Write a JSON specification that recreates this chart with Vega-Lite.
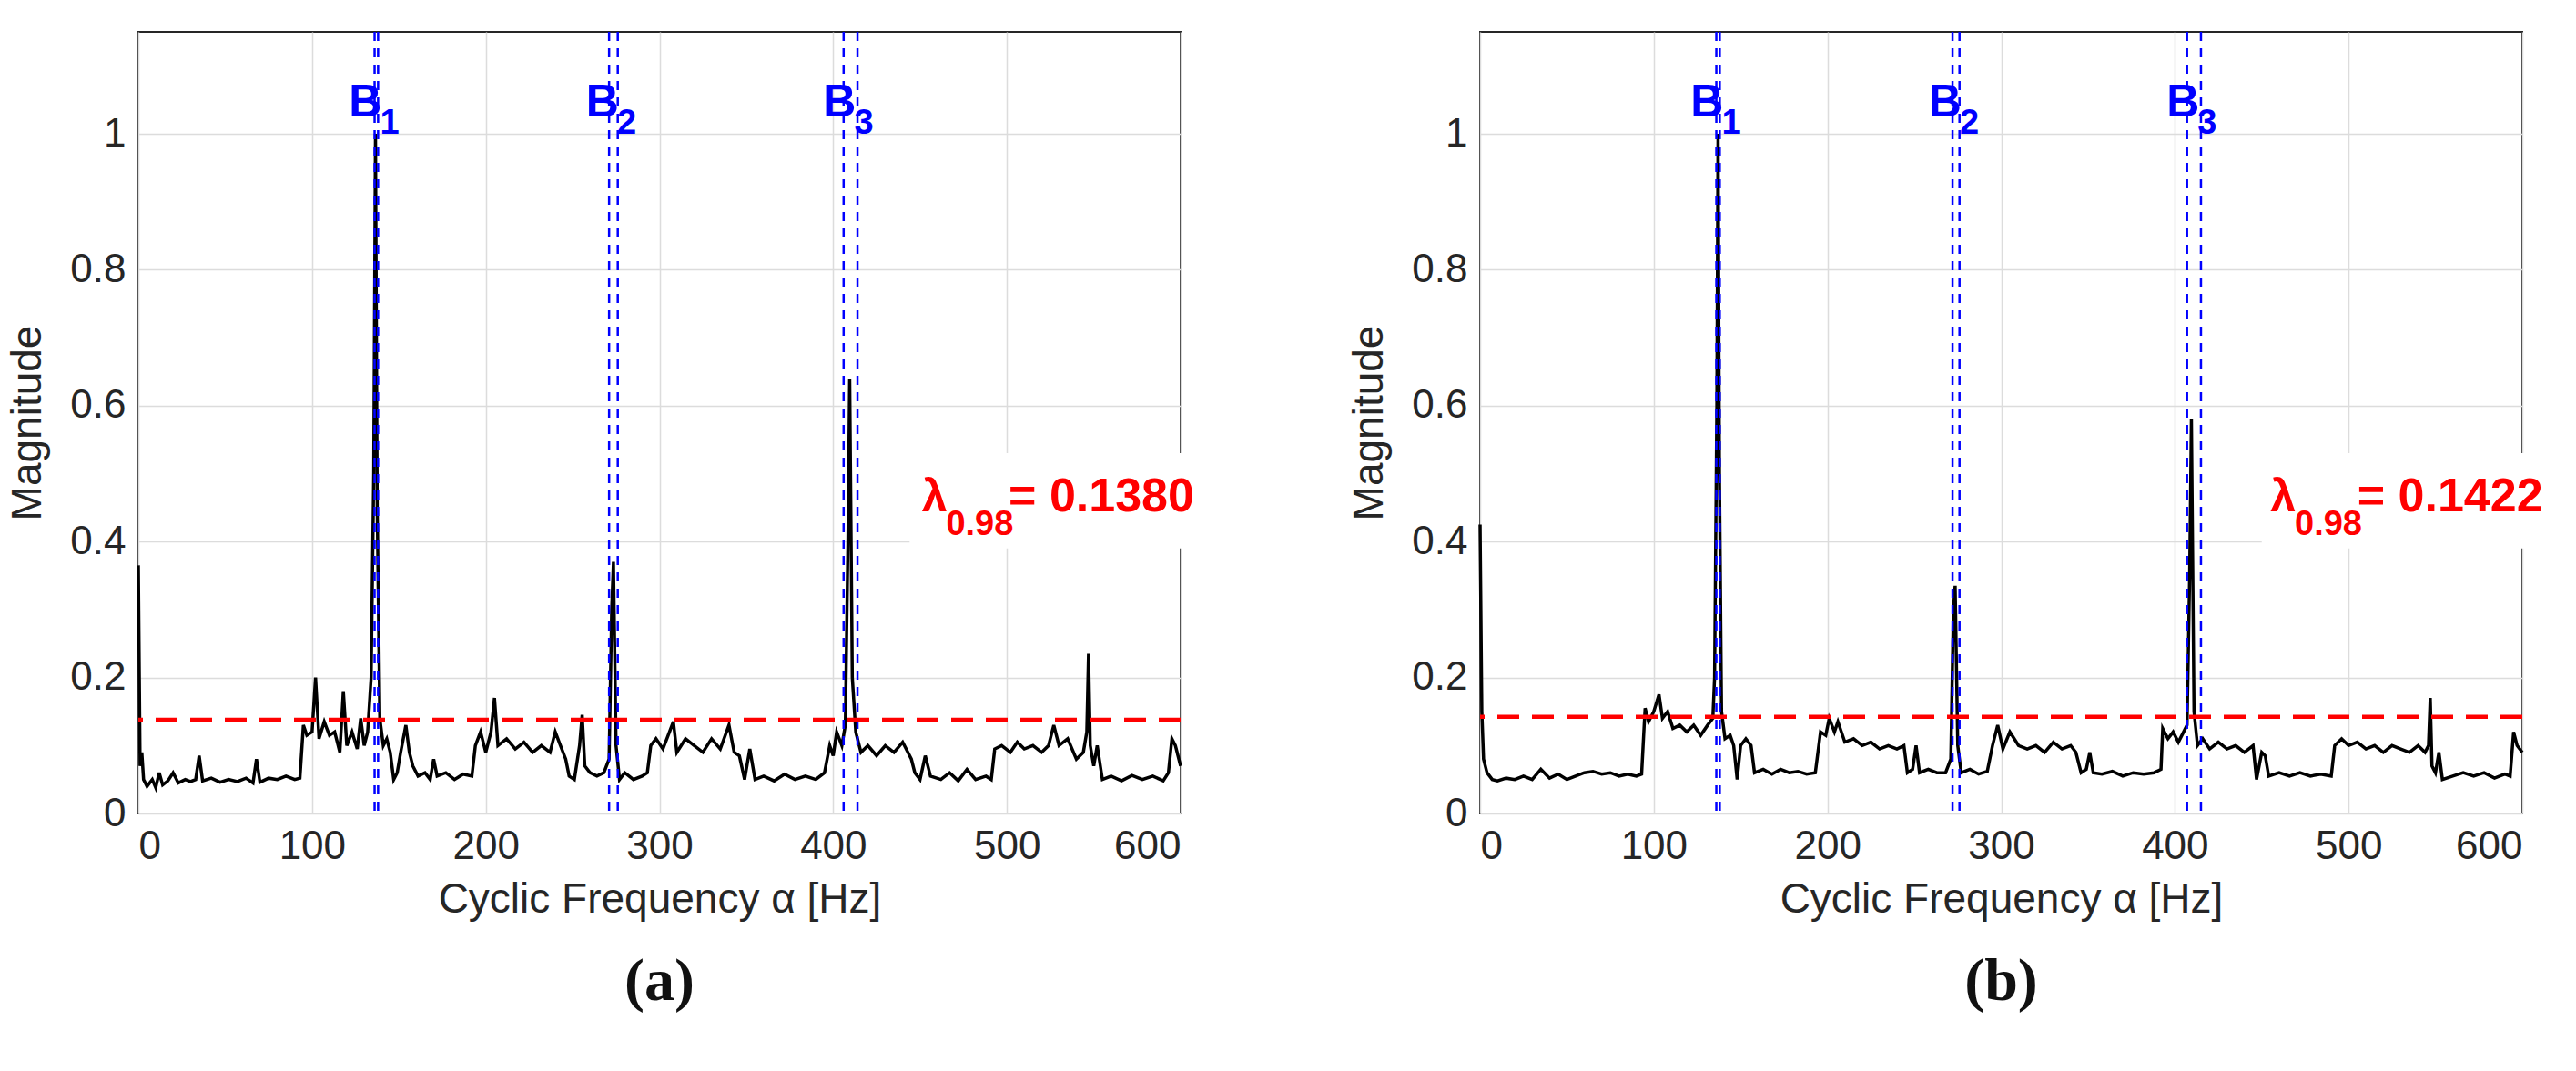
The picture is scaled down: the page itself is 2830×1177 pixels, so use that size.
{
  "$schema": "https://vega.github.io/schema/vega-lite/v6.json",
  "padding": {"left": 6, "top": 32, "right": 6, "bottom": 6},
  "background": "white",
  "spacing": 329,
  "bounds": "flush",
  "config": {
    "view": {"stroke": "#262626", "strokeWidth": 2},
    "font": "Liberation Sans",
    "axis": {
      "domain": false, "ticks": false, "grid": true, "gridColor": "#dcdcdc", "gridWidth": 1.5,
      "labelFont": "Liberation Sans", "labelFontSize": 44, "labelColor": "#262626",
      "titleFont": "Liberation Sans", "titleFontSize": 46, "titleFontWeight": "normal", "titleColor": "#262626",
      "labelPadding": 14
    },
    "title": {"font": "Liberation Serif", "fontSize": 66, "fontWeight": "bold", "orient": "bottom", "anchor": "middle", "offset": 36, "color": "#111"}
  },
  "datasets": {
    "sigA": [
      {"x":0,"y":0.365},{"x":1,"y":0.07},{"x":2,"y":0.09},{"x":3,"y":0.05},{"x":5,"y":0.04},{"x":8,"y":0.05},{"x":10,"y":0.038},{"x":12,"y":0.06},{"x":14,"y":0.042},{"x":17,"y":0.048},{"x":20,"y":0.06},{"x":23,"y":0.045},{"x":27,"y":0.05},{"x":30,"y":0.047},{"x":33,"y":0.05},{"x":35,"y":0.085},{"x":37,"y":0.048},{"x":42,"y":0.052},{"x":47,"y":0.046},{"x":52,"y":0.05},{"x":57,"y":0.047},{"x":62,"y":0.052},{"x":66,"y":0.045},{"x":68,"y":0.08},{"x":70,"y":0.046},{"x":75,"y":0.052},{"x":80,"y":0.05},{"x":85,"y":0.055},{"x":90,"y":0.05},{"x":93,"y":0.052},{"x":95,"y":0.13},{"x":97,"y":0.115},{"x":100,"y":0.12},{"x":102,"y":0.2},{"x":104,"y":0.11},{"x":107,"y":0.135},{"x":110,"y":0.115},{"x":113,"y":0.12},{"x":116,"y":0.09},{"x":118,"y":0.18},{"x":120,"y":0.1},{"x":123,"y":0.12},{"x":126,"y":0.095},{"x":128,"y":0.14},{"x":130,"y":0.1},{"x":132,"y":0.12},{"x":134,"y":0.2},{"x":135.5,"y":0.5},{"x":136.5,"y":1.0},{"x":137.5,"y":0.45},{"x":139,"y":0.14},{"x":141,"y":0.1},{"x":143,"y":0.11},{"x":145,"y":0.09},{"x":147,"y":0.05},{"x":149,"y":0.06},{"x":151,"y":0.09},{"x":154,"y":0.13},{"x":156,"y":0.09},{"x":158,"y":0.07},{"x":161,"y":0.055},{"x":165,"y":0.06},{"x":168,"y":0.05},{"x":170,"y":0.08},{"x":172,"y":0.055},{"x":177,"y":0.06},{"x":182,"y":0.05},{"x":187,"y":0.058},{"x":192,"y":0.055},{"x":194,"y":0.1},{"x":197,"y":0.12},{"x":200,"y":0.09},{"x":203,"y":0.12},{"x":205,"y":0.17},{"x":207,"y":0.1},{"x":212,"y":0.11},{"x":217,"y":0.095},{"x":222,"y":0.105},{"x":227,"y":0.09},{"x":232,"y":0.1},{"x":237,"y":0.09},{"x":240,"y":0.12},{"x":243,"y":0.1},{"x":246,"y":0.08},{"x":248,"y":0.055},{"x":251,"y":0.05},{"x":254,"y":0.1},{"x":255.5,"y":0.145},{"x":257,"y":0.07},{"x":260,"y":0.06},{"x":264,"y":0.055},{"x":268,"y":0.06},{"x":271,"y":0.08},{"x":272.5,"y":0.3},{"x":273.5,"y":0.37},{"x":275,"y":0.1},{"x":277,"y":0.05},{"x":280,"y":0.06},{"x":285,"y":0.05},{"x":290,"y":0.055},{"x":293,"y":0.06},{"x":295,"y":0.1},{"x":298,"y":0.11},{"x":302,"y":0.095},{"x":305,"y":0.115},{"x":308,"y":0.135},{"x":310,"y":0.09},{"x":315,"y":0.11},{"x":320,"y":0.1},{"x":325,"y":0.09},{"x":330,"y":0.11},{"x":335,"y":0.095},{"x":340,"y":0.13},{"x":343,"y":0.09},{"x":346,"y":0.085},{"x":349,"y":0.05},{"x":352,"y":0.095},{"x":355,"y":0.05},{"x":360,"y":0.055},{"x":366,"y":0.048},{"x":372,"y":0.058},{"x":378,"y":0.05},{"x":384,"y":0.055},{"x":390,"y":0.05},{"x":395,"y":0.06},{"x":398,"y":0.1},{"x":400,"y":0.085},{"x":402,"y":0.12},{"x":405,"y":0.1},{"x":407,"y":0.13},{"x":408.5,"y":0.4},{"x":409.5,"y":0.64},{"x":411,"y":0.2},{"x":413,"y":0.12},{"x":416,"y":0.09},{"x":420,"y":0.1},{"x":425,"y":0.085},{"x":430,"y":0.1},{"x":435,"y":0.09},{"x":440,"y":0.105},{"x":445,"y":0.08},{"x":447,"y":0.06},{"x":450,"y":0.05},{"x":453,"y":0.085},{"x":456,"y":0.055},{"x":462,"y":0.05},{"x":467,"y":0.06},{"x":472,"y":0.048},{"x":477,"y":0.065},{"x":482,"y":0.05},{"x":488,"y":0.055},{"x":491,"y":0.05},{"x":493,"y":0.095},{"x":497,"y":0.1},{"x":502,"y":0.09},{"x":506,"y":0.105},{"x":510,"y":0.095},{"x":515,"y":0.1},{"x":520,"y":0.09},{"x":524,"y":0.1},{"x":527,"y":0.13},{"x":530,"y":0.1},{"x":535,"y":0.11},{"x":540,"y":0.08},{"x":544,"y":0.09},{"x":546,"y":0.12},{"x":547,"y":0.235},{"x":548,"y":0.1},{"x":550,"y":0.07},{"x":552,"y":0.1},{"x":555,"y":0.05},{"x":560,"y":0.055},{"x":566,"y":0.048},{"x":572,"y":0.056},{"x":578,"y":0.05},{"x":584,"y":0.055},{"x":590,"y":0.048},{"x":593,"y":0.06},{"x":595,"y":0.11},{"x":597,"y":0.1},{"x":600,"y":0.07}
    ],
    "sigB": [
      {"x":0,"y":0.425},{"x":1,"y":0.15},{"x":2,"y":0.08},{"x":4,"y":0.06},{"x":7,"y":0.05},{"x":10,"y":0.048},{"x":15,"y":0.052},{"x":20,"y":0.05},{"x":25,"y":0.055},{"x":30,"y":0.05},{"x":35,"y":0.065},{"x":40,"y":0.052},{"x":45,"y":0.058},{"x":50,"y":0.05},{"x":55,"y":0.055},{"x":60,"y":0.06},{"x":65,"y":0.062},{"x":70,"y":0.058},{"x":75,"y":0.06},{"x":80,"y":0.055},{"x":85,"y":0.058},{"x":90,"y":0.055},{"x":93,"y":0.058},{"x":95,"y":0.155},{"x":97,"y":0.135},{"x":100,"y":0.15},{"x":103,"y":0.175},{"x":105,"y":0.14},{"x":108,"y":0.15},{"x":111,"y":0.125},{"x":115,"y":0.13},{"x":119,"y":0.12},{"x":123,"y":0.13},{"x":127,"y":0.115},{"x":131,"y":0.13},{"x":134,"y":0.14},{"x":135,"y":0.2},{"x":136.3,"y":0.6},{"x":137,"y":1.0},{"x":137.8,"y":0.5},{"x":139,"y":0.15},{"x":141,"y":0.11},{"x":144,"y":0.115},{"x":146,"y":0.1},{"x":148,"y":0.05},{"x":150,"y":0.1},{"x":153,"y":0.11},{"x":156,"y":0.1},{"x":158,"y":0.06},{"x":163,"y":0.065},{"x":168,"y":0.058},{"x":173,"y":0.065},{"x":178,"y":0.06},{"x":183,"y":0.062},{"x":188,"y":0.058},{"x":193,"y":0.06},{"x":196,"y":0.12},{"x":199,"y":0.115},{"x":201,"y":0.14},{"x":204,"y":0.12},{"x":206,"y":0.135},{"x":210,"y":0.105},{"x":215,"y":0.11},{"x":220,"y":0.1},{"x":225,"y":0.105},{"x":230,"y":0.095},{"x":235,"y":0.1},{"x":240,"y":0.095},{"x":244,"y":0.1},{"x":246,"y":0.06},{"x":249,"y":0.065},{"x":251,"y":0.1},{"x":253,"y":0.06},{"x":258,"y":0.065},{"x":263,"y":0.06},{"x":268,"y":0.06},{"x":271,"y":0.08},{"x":272.5,"y":0.3},{"x":273.5,"y":0.335},{"x":275,"y":0.1},{"x":277,"y":0.06},{"x":282,"y":0.065},{"x":287,"y":0.058},{"x":292,"y":0.062},{"x":295,"y":0.1},{"x":298,"y":0.13},{"x":301,"y":0.095},{"x":305,"y":0.12},{"x":310,"y":0.1},{"x":315,"y":0.095},{"x":320,"y":0.1},{"x":325,"y":0.09},{"x":330,"y":0.105},{"x":335,"y":0.095},{"x":340,"y":0.1},{"x":343,"y":0.09},{"x":346,"y":0.06},{"x":349,"y":0.065},{"x":351,"y":0.09},{"x":353,"y":0.06},{"x":358,"y":0.058},{"x":364,"y":0.062},{"x":370,"y":0.055},{"x":376,"y":0.06},{"x":382,"y":0.058},{"x":388,"y":0.06},{"x":392,"y":0.065},{"x":393,"y":0.125},{"x":396,"y":0.11},{"x":399,"y":0.12},{"x":402,"y":0.105},{"x":405,"y":0.12},{"x":407,"y":0.13},{"x":408.5,"y":0.35},{"x":409.5,"y":0.58},{"x":411,"y":0.15},{"x":413,"y":0.1},{"x":416,"y":0.11},{"x":420,"y":0.095},{"x":425,"y":0.105},{"x":430,"y":0.095},{"x":435,"y":0.1},{"x":440,"y":0.09},{"x":445,"y":0.1},{"x":447,"y":0.05},{"x":450,"y":0.09},{"x":452,"y":0.085},{"x":454,"y":0.055},{"x":460,"y":0.06},{"x":466,"y":0.055},{"x":472,"y":0.06},{"x":478,"y":0.055},{"x":484,"y":0.058},{"x":490,"y":0.055},{"x":492,"y":0.1},{"x":496,"y":0.11},{"x":500,"y":0.1},{"x":505,"y":0.105},{"x":510,"y":0.095},{"x":515,"y":0.1},{"x":520,"y":0.09},{"x":525,"y":0.1},{"x":530,"y":0.095},{"x":535,"y":0.09},{"x":540,"y":0.1},{"x":544,"y":0.09},{"x":546,"y":0.1},{"x":547,"y":0.17},{"x":548,"y":0.07},{"x":550,"y":0.06},{"x":552,"y":0.09},{"x":554,"y":0.05},{"x":560,"y":0.055},{"x":566,"y":0.06},{"x":572,"y":0.055},{"x":578,"y":0.06},{"x":584,"y":0.052},{"x":590,"y":0.058},{"x":593,"y":0.055},{"x":595,"y":0.12},{"x":597,"y":0.1},{"x":600,"y":0.09}
    ]
  },
  "hconcat": [
    {
      "width": 1145, "height": 859,
      "title": "(a)",
      "layer": [
        {
          "data": {"name": "sigA"},
          "mark": {"type": "line", "color": "black", "strokeWidth": 3.5},
          "encoding": {
            "x": {"field": "x", "type": "quantitative", "scale": {"domain": [0, 600], "nice": false}, "axis": {"values": [0,100,200,300,400,500,600], "title": "Cyclic Frequency α [Hz]", "titlePadding": 14}},
            "y": {"field": "y", "type": "quantitative", "scale": {"domain": [0, 1.15], "nice": false}, "axis": {"values": [0,0.2,0.4,0.6,0.8,1], "format": "~g", "title": "Magnitude", "titlePadding": 22}}
          }
        },
        {
          "data": {"values": [{"f": 136}, {"f": 138}, {"f": 271}, {"f": 276}, {"f": 406}, {"f": 414}]},
          "mark": {"type": "rule", "color": "#0000ff", "strokeWidth": 2.5, "strokeDash": [10, 8]},
          "encoding": {"x": {"field": "f", "type": "quantitative"}}
        },
        {
          "data": {"values": [{"t": 0.138}]},
          "mark": {"type": "rule", "color": "#ff0000", "strokeWidth": 4.5, "strokeDash": [24, 14]},
          "encoding": {"y": {"field": "t", "type": "quantitative"}}
        },
        {
          "data": {"values": [{"f": 137, "lab": "B"}, {"f": 273.5, "lab": "B"}, {"f": 410, "lab": "B"}]},
          "mark": {"type": "text", "color": "#0000ff", "fontSize": 50, "fontWeight": "bold", "font": "Liberation Sans", "align": "right", "baseline": "alphabetic", "dx": 6},
          "encoding": {"x": {"field": "f", "type": "quantitative"}, "y": {"datum": 1.025}, "text": {"field": "lab"}}
        },
        {
          "data": {"values": [{"f": 137, "lab": "1"}, {"f": 273.5, "lab": "2"}, {"f": 410, "lab": "3"}]},
          "mark": {"type": "text", "color": "#0000ff", "fontSize": 38, "fontWeight": "bold", "font": "Liberation Sans", "align": "left", "baseline": "alphabetic", "dx": 4},
          "encoding": {"x": {"field": "f", "type": "quantitative"}, "y": {"datum": 1.0}, "text": {"field": "lab"}}
        },
        {
          "data": {"values": [{"x1": 444, "x2": 614, "y1": 0.39, "y2": 0.53}]},
          "mark": {"type": "rect", "color": "white"},
          "encoding": {"x": {"field": "x1", "type": "quantitative"}, "x2": {"field": "x2"}, "y": {"field": "y1", "type": "quantitative"}, "y2": {"field": "y2"}}
        },
        {
          "data": {"values": [{"x": 451, "y": 0.445, "s": "λ", "sz": 50, "st": "italic"}, {"x": 465, "y": 0.41, "s": "0.98", "sz": 38, "st": "normal"}, {"x": 501, "y": 0.445, "s": "= 0.1380", "sz": 52, "st": "normal"}]},
          "mark": {"type": "text", "color": "#ff0000", "fontWeight": "bold", "align": "left", "baseline": "alphabetic", "font": "Liberation Sans"},
          "encoding": {"x": {"field": "x", "type": "quantitative"}, "y": {"field": "y", "type": "quantitative"}, "text": {"field": "s"}, "size": {"field": "sz", "type": "quantitative", "scale": null}, "fontStyle": {"field": "st", "type": "nominal", "scale": null, "legend": null}}
        }
      ]
    },
    {
      "width": 1145, "height": 859,
      "title": "(b)",
      "layer": [
        {
          "data": {"name": "sigB"},
          "mark": {"type": "line", "color": "black", "strokeWidth": 3.5},
          "encoding": {
            "x": {"field": "x", "type": "quantitative", "scale": {"domain": [0, 600], "nice": false}, "axis": {"values": [0,100,200,300,400,500,600], "title": "Cyclic Frequency α [Hz]", "titlePadding": 14}},
            "y": {"field": "y", "type": "quantitative", "scale": {"domain": [0, 1.15], "nice": false}, "axis": {"values": [0,0.2,0.4,0.6,0.8,1], "format": "~g", "title": "Magnitude", "titlePadding": 22}}
          }
        },
        {
          "data": {"values": [{"f": 136}, {"f": 138}, {"f": 272}, {"f": 276}, {"f": 407}, {"f": 415}]},
          "mark": {"type": "rule", "color": "#0000ff", "strokeWidth": 2.5, "strokeDash": [10, 8]},
          "encoding": {"x": {"field": "f", "type": "quantitative"}}
        },
        {
          "data": {"values": [{"t": 0.1422}]},
          "mark": {"type": "rule", "color": "#ff0000", "strokeWidth": 4.5, "strokeDash": [24, 14]},
          "encoding": {"y": {"field": "t", "type": "quantitative"}}
        },
        {
          "data": {"values": [{"f": 137, "lab": "B"}, {"f": 274, "lab": "B"}, {"f": 411, "lab": "B"}]},
          "mark": {"type": "text", "color": "#0000ff", "fontSize": 50, "fontWeight": "bold", "font": "Liberation Sans", "align": "right", "baseline": "alphabetic", "dx": 6},
          "encoding": {"x": {"field": "f", "type": "quantitative"}, "y": {"datum": 1.025}, "text": {"field": "lab"}}
        },
        {
          "data": {"values": [{"f": 137, "lab": "1"}, {"f": 274, "lab": "2"}, {"f": 411, "lab": "3"}]},
          "mark": {"type": "text", "color": "#0000ff", "fontSize": 38, "fontWeight": "bold", "font": "Liberation Sans", "align": "left", "baseline": "alphabetic", "dx": 4},
          "encoding": {"x": {"field": "f", "type": "quantitative"}, "y": {"datum": 1.0}, "text": {"field": "lab"}}
        },
        {
          "data": {"values": [{"x1": 450, "x2": 614, "y1": 0.39, "y2": 0.53}]},
          "mark": {"type": "rect", "color": "white"},
          "encoding": {"x": {"field": "x1", "type": "quantitative"}, "x2": {"field": "x2"}, "y": {"field": "y1", "type": "quantitative"}, "y2": {"field": "y2"}}
        },
        {
          "data": {"values": [{"x": 455, "y": 0.445, "s": "λ", "sz": 50, "st": "italic"}, {"x": 469, "y": 0.41, "s": "0.98", "sz": 38, "st": "normal"}, {"x": 505, "y": 0.445, "s": "= 0.1422", "sz": 52, "st": "normal"}]},
          "mark": {"type": "text", "color": "#ff0000", "fontWeight": "bold", "align": "left", "baseline": "alphabetic", "font": "Liberation Sans"},
          "encoding": {"x": {"field": "x", "type": "quantitative"}, "y": {"field": "y", "type": "quantitative"}, "text": {"field": "s"}, "size": {"field": "sz", "type": "quantitative", "scale": null}, "fontStyle": {"field": "st", "type": "nominal", "scale": null, "legend": null}}
        }
      ]
    }
  ]
}
